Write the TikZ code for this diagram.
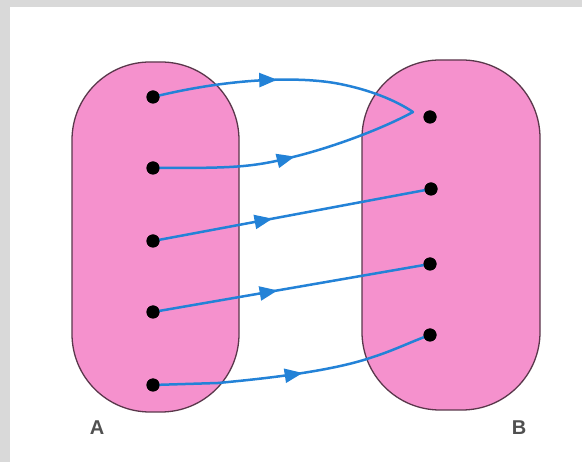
\documentclass[tikz,border=0pt]{standalone}
\usepackage{fontspec}
\setsansfont{Liberation Sans}
\usetikzlibrary{arrows.meta,decorations.markings,shapes.misc}
\definecolor{setpink}{RGB}{245,145,205}
\definecolor{setline}{RGB}{90,55,75}
\definecolor{arrblue}{RGB}{35,130,215}
\definecolor{framegray}{RGB}{217,217,217}
\definecolor{labgray}{RGB}{80,80,80}
\tikzset{
  setbox/.style={draw=setline, line width=1.3pt, fill=setpink, rounded corners=78pt, inner sep=0pt},
  elem/.style={circle, fill=black, minimum size=13pt, inner sep=0pt},
  maplink/.style={draw=arrblue, line width=2.5pt, line cap=round},
  midarrow/.style={postaction={decorate, decoration={markings,
      mark=at position #1 with {\arrow[scale=1]{Triangle[length=18pt,width=14pt]}}}}},
  setlabel/.style={font=\sffamily\bfseries\fontsize{20}{20}\selectfont, text=labgray}
}
\begin{document}
\begin{tikzpicture}[x=1pt,y=-1pt]
\useasboundingbox (0,0) rectangle (582,462);
\fill[framegray] (0,0) rectangle (582,462);
\fill[white] (10,7) rectangle (582,462);
% sets
\node[setbox, minimum width=167pt, minimum height=350pt] (SA) at (155.5,237) {};
\node[setbox, minimum width=178pt, minimum height=350pt] (SB) at (451,235) {};
% elements
\node[elem] (a1) at (153,97) {};
\node[elem] (a2) at (153,168) {};
\node[elem] (a3) at (153,241) {};
\node[elem] (a4) at (153,312) {};
\node[elem] (a5) at (153,385) {};
\node[elem] (b1) at (430,117) {};
\node[elem] (b2) at (431,189) {};
\node[elem] (b3) at (430,264) {};
\node[elem] (b4) at (430,335) {};
\coordinate (tip) at (413,112);
% mappings
\draw[maplink, midarrow=0.47] (a1.center) .. controls (230,78) and (300,76) .. (340,84) .. controls (370,90) and (395,100) .. (tip);
\draw[maplink, midarrow=0.53] (a2.center) .. controls (230,168) and (250,168) .. (293,157) .. controls (330,148) and (380,130) .. (tip);
\draw[maplink, midarrow=0.43] (a3.center) -- (b2.center);
\draw[maplink, midarrow=0.45] (a4.center) -- (b3.center);
\draw[maplink, midarrow=0.53] (a5.center) -- (218,383) .. controls (260,379) and (330,372) .. (373,357) .. controls (395,350) and (415,340) .. (b4.center);
% redraw dots on top
\foreach \n in {a1,a2,a3,a4,a5,b1,b2,b3,b4} \fill (\n) circle (6.5pt);
% labels
\node[setlabel] (la) at (97,428) {A};
\node[setlabel] (lb) at (519,428) {B};
\end{tikzpicture}
\end{document}
